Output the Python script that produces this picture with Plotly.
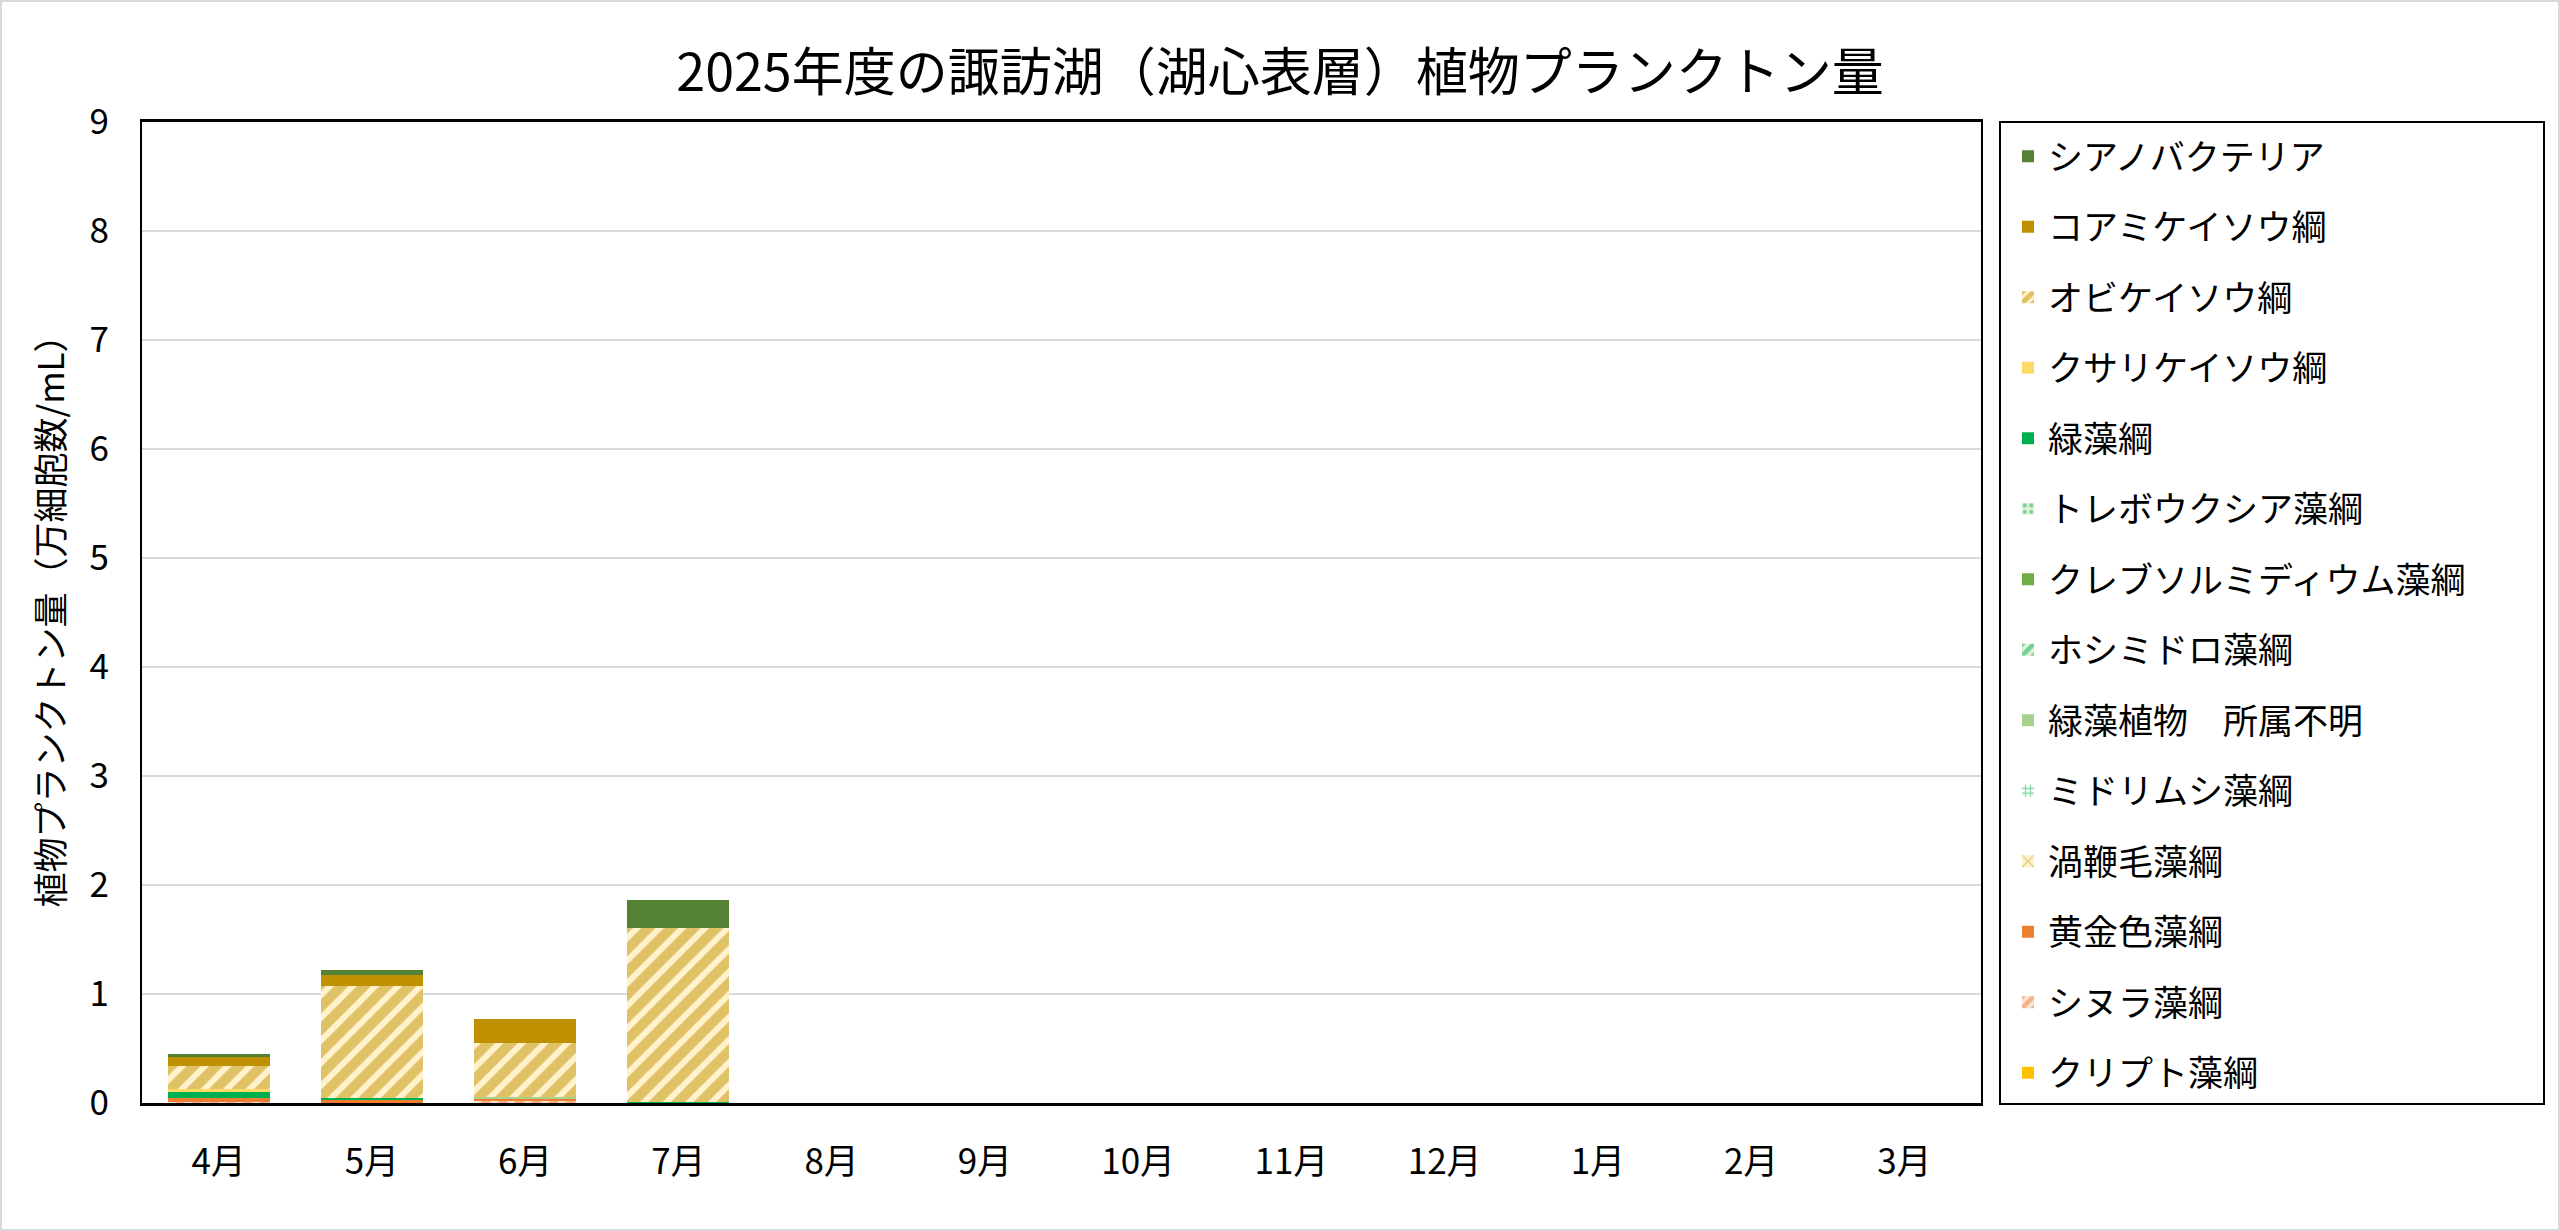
import plotly.graph_objects as go

months = ["4月", "5月", "6月", "7月", "8月", "9月", "10月", "11月", "12月", "1月", "2月", "3月"]

# values in 万細胞数/mL (None = no data yet)
cryptophyceae      = [0.0,   0.0,   0.0,   0.0,   None, None, None, None, None, None, None, None]
synurophyceae      = [0.012, 0.0,   0.015, 0.0,   None, None, None, None, None, None, None, None]
chrysophyceae      = [0.035, 0.025, 0.03,  0.0,   None, None, None, None, None, None, None, None]
dinophyceae        = [0.0,   0.0,   0.0,   0.0,   None, None, None, None, None, None, None, None]
euglenophyceae     = [0.0,   0.0,   0.0,   0.0,   None, None, None, None, None, None, None, None]
chlorophyta_unk    = [0.0,   0.0,   0.012, 0.0,   None, None, None, None, None, None, None, None]
zygnematophyceae   = [0.0,   0.0,   0.0,   0.0,   None, None, None, None, None, None, None, None]
klebsormidiophyceae= [0.0,   0.0,   0.0,   0.0,   None, None, None, None, None, None, None, None]
trebouxiophyceae   = [0.0,   0.0,   0.0,   0.0,   None, None, None, None, None, None, None, None]
chlorophyceae      = [0.061, 0.02,  0.0,   0.01,  None, None, None, None, None, None, None, None]
mediophyceae_chain = [0.016, 0.0,   0.0,   0.0,   None, None, None, None, None, None, None, None]
fragilariophyceae  = [0.22,  1.03,  0.49,  1.6,   None, None, None, None, None, None, None, None]
coscinodiscophyceae= [0.076, 0.098, 0.22,  0.0,   None, None, None, None, None, None, None, None]
cyanobacteria      = [0.03,  0.049, 0.0,   0.254, None, None, None, None, None, None, None, None]

y_ticks = [0, 1, 2, 3, 4, 5, 6, 7, 8, 9]

# stacking order bottom -> top
series = [
    ("クリプト藻綱", cryptophyceae, dict(color="#FFC000")),
    ("シヌラ藻綱", synurophyceae, dict(color="#FBE5D6", pattern=dict(shape="/", fgcolor="#ED7D31", bgcolor="#FBE5D6", size=12, solidity=0.55))),
    ("黄金色藻綱", chrysophyceae, dict(color="#ED7D31")),
    ("渦鞭毛藻綱", dinophyceae, dict(color="#FFF2CC", pattern=dict(shape="x", fgcolor="#BF9000", bgcolor="#FFF2CC", size=12, solidity=0.25))),
    ("ミドリムシ藻綱", euglenophyceae, dict(color="#FFFFFF", pattern=dict(shape="+", fgcolor="#00B050", bgcolor="#FFFFFF", size=6, solidity=0.45))),
    ("緑藻植物\u3000所属不明", chlorophyta_unk, dict(color="#A9D18E")),
    ("ホシミドロ藻綱", zygnematophyceae, dict(color="#E2F0D9", pattern=dict(shape="/", fgcolor="#00B050", bgcolor="#E2F0D9", size=10, solidity=0.55))),
    ("クレブソルミディウム藻綱", klebsormidiophyceae, dict(color="#70AD47")),
    ("トレボウクシア藻綱", trebouxiophyceae, dict(color="#E2F0D9", pattern=dict(shape=".", fgcolor="#00B050", bgcolor="#E2F0D9", size=8, solidity=0.3))),
    ("緑藻綱", chlorophyceae, dict(color="#00B050")),
    ("クサリケイソウ綱", mediophyceae_chain, dict(color="#FFD966")),
    ("オビケイソウ綱", fragilariophyceae, dict(color="#FFF2CC", pattern=dict(shape="/", fgcolor="#BF9000", bgcolor="#FFF2CC", size=16, solidity=0.62))),
    ("コアミケイソウ綱", coscinodiscophyceae, dict(color="#BF9000")),
    ("シアノバクテリア", cyanobacteria, dict(color="#548235")),
]

FONT = "Noto Sans CJK JP"
n = len(series)

fig = go.Figure()
for i, (name, vals, mk) in enumerate(series):
    marker = dict(mk)
    marker["line"] = dict(width=0)
    fig.add_trace(go.Bar(x=months, y=vals, name=name, marker=marker,
                         legendgroup=f"g{i}", legendrank=n - i))

L, R, T, B = 142, 1981, 122, 1103
W, H = 2560, 1231

def px_x(p):
    return (p - L) / (R - L)

def px_y(p):
    return (B - p) / (B - T)

fig.update_layout(
    width=W, height=H,
    margin=dict(l=L, r=W - R, t=T, b=H - B, pad=0),
    barmode="stack",
    bargap=0.335,
    plot_bgcolor="white",
    paper_bgcolor="white",
    font=dict(family=FONT, size=35, color="black"),
    title=dict(text="2025年度の諏訪湖（湖心表層）植物プランクトン量",
               x=0.5, xref="container", xanchor="center",
               y=1 - 73 / H, yref="container", yanchor="middle",
               font=dict(family=FONT, size=52, color="black")),
    showlegend=True,
    legend=dict(
        x=px_x(2008), xanchor="left",
        y=px_y(127), yanchor="top",
        traceorder="grouped",
        tracegroupgap=22,
        font=dict(family=FONT, size=35, color="black"),
        bgcolor="rgba(0,0,0,0)",
        borderwidth=0,
        maxheight=1150,
    ),
    xaxis=dict(
        categoryorder="array", categoryarray=months,
        showline=True, linecolor="black", linewidth=3, mirror=True,
        ticks="", ticklabelstandoff=26,
        tickfont=dict(family=FONT, size=35, color="black"),
        showgrid=False,
    ),
    yaxis=dict(
        range=[0, 9], tickvals=y_ticks, ticktext=[str(v) for v in y_ticks],
        showline=True, linecolor="black", linewidth=2, mirror=True,
        ticks="", ticklabelstandoff=24,
        tickfont=dict(family=FONT, size=35, color="black"),
        showgrid=True, gridcolor="#D9D9D9", gridwidth=2,
        zeroline=False,
        title=dict(text="植物プランクトン量（万細胞数/mL）", standoff=14,
                   font=dict(family=FONT, size=35, color="black")),
    ),
    shapes=[
        dict(type="rect", xref="paper", yref="paper",
             x0=px_x(2000), x1=px_x(2544), y0=px_y(1104), y1=px_y(122),
             line=dict(color="black", width=2), fillcolor="rgba(0,0,0,0)", layer="above"),
        dict(type="rect", xref="paper", yref="paper",
             x0=px_x(1), x1=px_x(2559), y0=px_y(1230), y1=px_y(1),
             line=dict(color="#D9D9D9", width=2), fillcolor="rgba(0,0,0,0)", layer="below"),
    ],
)

fig.write_html("out.html", config={"displayModeBar": False},
               post_script="document.body.style.margin='0';document.body.style.padding='0';")
